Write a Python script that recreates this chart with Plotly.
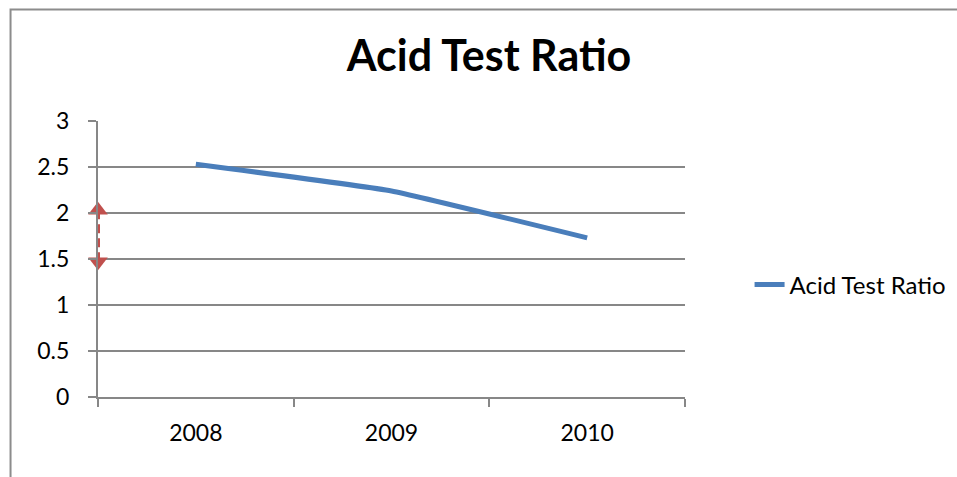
import plotly.graph_objects as go

# Acid test ratio by year
years = ["2008", "2009", "2010"]
ratio = [2.53, 2.24, 1.73]

# dashed double-headed marker drawn on the value axis
arrow_x = [-0.5, -0.5]
arrow_y = [2.03, 1.47]

y_ticks = [0, 0.5, 1, 1.5, 2, 2.5, 3]
y_ticktext = ["0", "0.5", "1", "1.5", "2", "2.5", "3"]

FONT = "Lato"
GRID = "#878787"
BLUE = "#4A7EBB"
RED = "#C0504D"

fig = go.Figure()

fig.add_trace(go.Scatter(
    x=years, y=ratio, mode="lines", name="Acid Test Ratio",
    line=dict(color=BLUE, width=5, shape="spline", smoothing=0.3),
    xaxis="x", yaxis="y",
))

fig.add_trace(go.Scatter(
    x=arrow_x, y=arrow_y, mode="lines+markers", showlegend=False,
    line=dict(color=RED, width=4, dash="9px,5px"),
    marker=dict(symbol=["triangle-up", "triangle-down"], size=17, color=RED),
    xaxis="x2", yaxis="y", cliponaxis=False,
))

fig.update_layout(
    width=957, height=477,
    margin=dict(l=98, r=272, t=121, b=80, autoexpand=False),
    paper_bgcolor="white", plot_bgcolor="white",
    font=dict(family=FONT, size=23, color="black"),
    title=dict(
        text="<b>Acid Test Ratio</b>", font=dict(family=FONT, size=43, color="black"),
        x=0.511, xanchor="center", y=0.882, yanchor="middle",
    ),
    xaxis=dict(
        type="category", range=[-0.5, 2.5], showgrid=False,
        showline=True, linecolor=GRID, linewidth=2,
        ticks="outside", tickson="boundaries", ticklen=8, tickcolor=GRID, tickwidth=2,
        ticklabelstandoff=14, zeroline=False,
        tickfont=dict(family=FONT, size=23),
    ),
    xaxis2=dict(
        overlaying="x", range=[-0.5, 2.5], visible=False,
    ),
    yaxis=dict(
        range=[0, 3], tickvals=y_ticks, ticktext=y_ticktext,
        showgrid=True, gridcolor=GRID, gridwidth=2,
        showline=True, linecolor=GRID, linewidth=2,
        ticks="outside", ticklen=8, tickcolor=GRID, tickwidth=2,
        ticklabelstandoff=14, zeroline=False,
        tickfont=dict(family=FONT, size=23),
    ),
    legend=dict(
        x=1.11, xanchor="left", y=0.406, yanchor="middle",
        font=dict(family=FONT, size=24), bgcolor="rgba(0,0,0,0)",
    ),
    showlegend=True,
)

# outer chart border (left and top edges)
fig.add_shape(
    type="path", xref="paper", yref="paper",
    path="M -0.149 -0.35 L -0.149 1.404 L 1.5 1.404",
    line=dict(color="#8C8C8C", width=2),
)

fig.write_html("out.html")
